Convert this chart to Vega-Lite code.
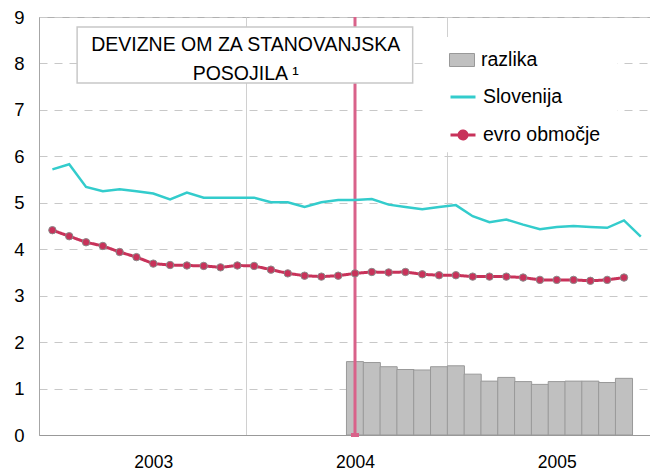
{
  "$schema": "https://vega.github.io/schema/vega-lite/v6.json",
  "width": 611,
  "height": 418,
  "autosize": {"type": "none"},
  "padding": {"left": 39, "top": 17, "right": 0, "bottom": 36},
  "background": "white",
  "config": {
    "font": "Liberation Sans",
    "view": {"stroke": "#b0b0b0", "strokeWidth": 1},
    "legend": {
      "orient": "none",
      "padding": 0,
      "labelFontSize": 19.5,
      "labelFont": "Liberation Sans",
      "labelColor": "black",
      "labelOffset": 6,
      "symbolSize": 625,
      "title": null
    }
  },
  "datasets": {
    "months": [
      {"i": 0, "month": "2002-07", "slo": 5.72, "evro": 4.41, "razlika": null},
      {"i": 1, "month": "2002-08", "slo": 5.83, "evro": 4.28, "razlika": null},
      {"i": 2, "month": "2002-09", "slo": 5.34, "evro": 4.15, "razlika": null},
      {"i": 3, "month": "2002-10", "slo": 5.25, "evro": 4.07, "razlika": null},
      {"i": 4, "month": "2002-11", "slo": 5.29, "evro": 3.94, "razlika": null},
      {"i": 5, "month": "2002-12", "slo": 5.25, "evro": 3.83, "razlika": null},
      {"i": 6, "month": "2003-01", "slo": 5.20, "evro": 3.69, "razlika": null},
      {"i": 7, "month": "2003-02", "slo": 5.07, "evro": 3.66, "razlika": null},
      {"i": 8, "month": "2003-03", "slo": 5.22, "evro": 3.65, "razlika": null},
      {"i": 9, "month": "2003-04", "slo": 5.11, "evro": 3.64, "razlika": null},
      {"i": 10, "month": "2003-05", "slo": 5.11, "evro": 3.61, "razlika": null},
      {"i": 11, "month": "2003-06", "slo": 5.11, "evro": 3.65, "razlika": null},
      {"i": 12, "month": "2003-07", "slo": 5.11, "evro": 3.64, "razlika": null},
      {"i": 13, "month": "2003-08", "slo": 5.01, "evro": 3.56, "razlika": null},
      {"i": 14, "month": "2003-09", "slo": 5.01, "evro": 3.48, "razlika": null},
      {"i": 15, "month": "2003-10", "slo": 4.91, "evro": 3.43, "razlika": null},
      {"i": 16, "month": "2003-11", "slo": 5.01, "evro": 3.41, "razlika": null},
      {"i": 17, "month": "2003-12", "slo": 5.06, "evro": 3.43, "razlika": null},
      {"i": 18, "month": "2004-01", "slo": 5.06, "evro": 3.48, "razlika": 1.58},
      {"i": 19, "month": "2004-02", "slo": 5.08, "evro": 3.51, "razlika": 1.56},
      {"i": 20, "month": "2004-03", "slo": 4.96, "evro": 3.50, "razlika": 1.47},
      {"i": 21, "month": "2004-04", "slo": 4.91, "evro": 3.51, "razlika": 1.41},
      {"i": 22, "month": "2004-05", "slo": 4.86, "evro": 3.46, "razlika": 1.40},
      {"i": 23, "month": "2004-06", "slo": 4.91, "evro": 3.44, "razlika": 1.47},
      {"i": 24, "month": "2004-07", "slo": 4.95, "evro": 3.44, "razlika": 1.49},
      {"i": 25, "month": "2004-08", "slo": 4.71, "evro": 3.41, "razlika": 1.31},
      {"i": 26, "month": "2004-09", "slo": 4.58, "evro": 3.41, "razlika": 1.16},
      {"i": 27, "month": "2004-10", "slo": 4.64, "evro": 3.41, "razlika": 1.24},
      {"i": 28, "month": "2004-11", "slo": 4.53, "evro": 3.39, "razlika": 1.15},
      {"i": 29, "month": "2004-12", "slo": 4.43, "evro": 3.34, "razlika": 1.09},
      {"i": 30, "month": "2005-01", "slo": 4.48, "evro": 3.34, "razlika": 1.15},
      {"i": 31, "month": "2005-02", "slo": 4.50, "evro": 3.34, "razlika": 1.16},
      {"i": 32, "month": "2005-03", "slo": 4.48, "evro": 3.32, "razlika": 1.16},
      {"i": 33, "month": "2005-04", "slo": 4.46, "evro": 3.34, "razlika": 1.13},
      {"i": 34, "month": "2005-05", "slo": 4.62, "evro": 3.39, "razlika": 1.22},
      {"i": 35, "month": "2005-06", "slo": 4.27, "evro": null, "razlika": null}
    ],
    "single": [{"note": "annotation"}]
  },
  "data": {"name": "months"},
  "layer": [
    {
      "mark": {"type": "bar", "width": 17.09, "stroke": "#999999", "strokeWidth": 1, "opacity": 1},
      "encoding": {
        "x": {
          "field": "i", "type": "quantitative",
          "scale": {"domain": [-0.5, 35.25], "nice": false, "zero": false},
          "axis": {
            "title": null,
            "values": [6, 11.5, 18, 23.5, 30],
            "labelExpr": "datum.value === 6 ? '2003' : datum.value === 18 ? '2004' : datum.value === 30 ? '2005' : ''",
            "labelFontSize": 17.5,
            "labelColor": "black",
            "labelPadding": 18,
            "labelFont": "Liberation Sans",
            "ticks": false,
            "domainColor": "#999999",
            "grid": true,
            "gridColor": "#d0d0d0",
            "gridWidth": 1,
            "gridOpacity": {"condition": {"test": "datum.value === 11.5 || datum.value === 23.5", "value": 1}, "value": 0}
          }
        },
        "y": {
          "field": "razlika", "type": "quantitative",
          "scale": {"domain": [0, 9], "nice": false},
          "axis": {
            "title": null,
            "values": [0, 1, 2, 3, 4, 5, 6, 7, 8, 9],
            "labelFontSize": 18.5,
            "labelColor": "black",
            "labelPadding": 15,
            "labelFont": "Liberation Sans",
            "ticks": false,
            "domainColor": "#a6a6a6",
            "grid": true,
            "gridColor": "#c8c8c8",
            "gridDash": [8, 7],
            "gridWidth": 1
          }
        },
        "color": {
          "datum": "razlika",
          "scale": {"domain": ["razlika"], "range": ["#c0c0c0"]},
          "legend": {
            "legendX": 410,
            "legendY": 30,
            "symbolType": "M-1,-0.52H1V0.52H-1Z",
            "symbolFillColor": "#c0c0c0",
            "symbolStrokeColor": "#999999",
            "symbolStrokeWidth": 1
          }
        }
      }
    },
    {
      "data": {"name": "single"},
      "mark": {"type": "rect", "fill": "white", "strokeWidth": 0},
      "encoding": {
        "x": {"datum": 22.09, "type": "quantitative"},
        "x2": {"datum": 33.61},
        "y": {"datum": 6.09, "type": "quantitative"},
        "y2": {"datum": 8.57}
      }
    },
    {
      "data": {"name": "single"},
      "mark": {"type": "rule", "color": "#d9628a", "strokeWidth": 3},
      "encoding": {
        "x": {"datum": 18, "type": "quantitative"},
        "y": {"datum": 0, "type": "quantitative"},
        "y2": {"datum": 9}
      }
    },
    {
      "data": {"name": "single"},
      "mark": {"type": "point", "shape": "M-1,-0.5H1V0.5H-1Z", "filled": true, "size": 64, "color": "#d9628a", "opacity": 1},
      "encoding": {
        "x": {"datum": 18, "type": "quantitative"},
        "y": {"datum": 0, "type": "quantitative"}
      }
    },
    {
      "mark": {"type": "line", "strokeWidth": 2.5},
      "encoding": {
        "x": {"field": "i", "type": "quantitative"},
        "y": {"field": "slo", "type": "quantitative"},
        "stroke": {
          "datum": "Slovenija",
          "scale": {"domain": ["Slovenija"], "range": ["#33cccc"]},
          "legend": {
            "legendX": 410,
            "legendY": 66,
            "symbolType": "M-1,0H1",
            "symbolStrokeWidth": 3
          }
        }
      }
    },
    {
      "mark": {"type": "line", "strokeWidth": 3, "color": "#c8325a"},
      "encoding": {
        "x": {"field": "i", "type": "quantitative"},
        "y": {"field": "evro", "type": "quantitative"},
        "strokeDash": {
          "datum": "evro območje",
          "scale": {"domain": ["evro območje"], "range": [[1, 0]]},
          "legend": {
            "legendX": 410,
            "legendY": 104,
            "symbolType": "M-1,0H1M0.32,0A0.32,0.32,0,1,1,-0.32,0A0.32,0.32,0,1,1,0.32,0Z",
            "symbolFillColor": "#c8325a",
            "symbolStrokeColor": "#c8325a",
            "symbolStrokeWidth": 3
          }
        }
      }
    },
    {
      "mark": {"type": "point", "filled": true, "size": 55, "color": "#c8325a", "stroke": "#8a8a8a", "strokeWidth": 1, "opacity": 1},
      "encoding": {
        "x": {"field": "i", "type": "quantitative"},
        "y": {"field": "evro", "type": "quantitative"}
      }
    },
    {
      "data": {"name": "single"},
      "mark": {"type": "rect", "fill": "white", "stroke": "#c8c8c8", "strokeWidth": 1.5},
      "encoding": {
        "x": {"datum": 1.47, "type": "quantitative"},
        "x2": {"datum": 21.43},
        "y": {"datum": 7.58, "type": "quantitative"},
        "y2": {"datum": 8.785}
      }
    },
    {
      "data": {"name": "single"},
      "mark": {
        "type": "text",
        "text": ["DEVIZNE OM ZA STANOVANJSKA", "POSOJILA ¹"],
        "font": "Liberation Sans",
        "fontSize": 19.5,
        "color": "black",
        "align": "center",
        "baseline": "alphabetic",
        "lineHeight": 29.3
      },
      "encoding": {
        "x": {"datum": 11.5, "type": "quantitative"},
        "y": {"datum": 8.275, "type": "quantitative"}
      }
    }
  ]
}
